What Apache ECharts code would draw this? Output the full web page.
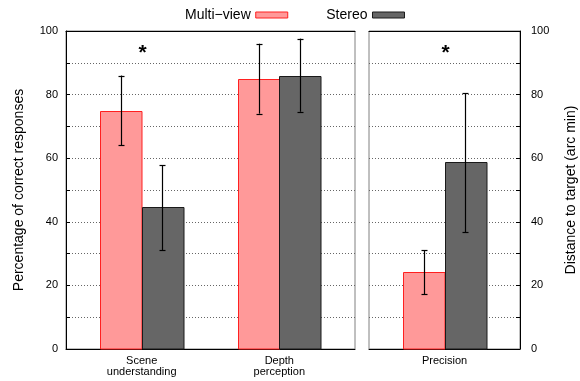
<!DOCTYPE html>
<html>
<head>
<meta charset="utf-8">
<script src="https://cdn.jsdelivr.net/npm/echarts@6/dist/echarts.min.js"></script>
<style>html,body{margin:0;padding:0;background:#fff}#chart{width:580px;height:381px}</style>
</head>
<body>
<div id="chart"></div>
<script>
// ---- data ----
const categoriesLeft = ['Scene\nunderstanding', 'Depth\nperception'];
const categoriesRight = ['Precision'];
const seriesNames = ['Multi\u2212view', 'Stereo'];

const multiViewPct = [75, 85];
const multiViewPctLow = [64, 74];
const multiViewPctHigh = [86, 96];

const stereoPct = [44.5, 86];
const stereoPctLow = [31, 74.6];
const stereoPctHigh = [57.8, 97.6];

const multiViewDist = [24.2];
const multiViewDistLow = [17.3];
const multiViewDistHigh = [31];

const stereoDist = [58.7];
const stereoDistLow = [36.8];
const stereoDistHigh = [80.4];

const yTicks = [0, 20, 40, 60, 80, 100];
const sigLeft = [[0, 94]];
const sigRight = [[0, 94]];

// ---- chart ----
const FONT = '"Liberation Sans", Arial, sans-serif';
const BAR_W = 41.5;
const styles = {
  mv: { fill: '#ff9999', stroke: '#ff2020' },
  st: { fill: '#666666', stroke: '#1a1a1a' }
};

function toData(v, lo, hi) { return v.map((x, i) => [i, x, lo[i], hi[i]]); }

function barRenderer(side, st) {
  return function (params, api) {
    const x = api.value(0), v = api.value(1), lo = api.value(2), hi = api.value(3);
    const top = api.coord([x, v]);
    const base = api.coord([x, 0]);
    const pLo = api.coord([x, lo]);
    const pHi = api.coord([x, hi]);
    const left = side < 0 ? top[0] - BAR_W : top[0];
    const ex = Math.round(left + BAR_W / 2) + 0.5;
    const cap = 3;
    return {
      type: 'group',
      children: [
        { type: 'rect', shape: { x: Math.round(left) + 0.5, y: Math.round(top[1]) + 0.5, width: BAR_W, height: base[1] - Math.round(top[1]) - 0.5 },
          style: { fill: st.fill, stroke: st.stroke, lineWidth: 1 } },
        { type: 'line', shape: { x1: ex, y1: pLo[1], x2: ex, y2: pHi[1] }, style: { stroke: '#000', lineWidth: 1.2 } },
        { type: 'line', shape: { x1: ex - cap, y1: Math.round(pLo[1]) + 0.5, x2: ex + cap, y2: Math.round(pLo[1]) + 0.5 }, style: { stroke: '#000', lineWidth: 1.2 } },
        { type: 'line', shape: { x1: ex - cap, y1: Math.round(pHi[1]) + 0.5, x2: ex + cap, y2: Math.round(pHi[1]) + 0.5 }, style: { stroke: '#000', lineWidth: 1.2 } }
      ]
    };
  };
}

function sigRenderer(params, api) {
  const p = api.coord([api.value(0), api.value(1)]);
  return { type: 'text', x: p[0] + 1, y: p[1] + 3, style: { text: '*', font: 'bold 21px ' + FONT, fill: '#000', align: 'center', verticalAlign: 'middle' } };
}

const splitStyle = { show: true, lineStyle: { color: '#666', type: [1, 2], width: 1 } };

function yAxis(grid, pos, name, nameGap, margin) {
  return {
    type: 'value', gridIndex: grid, position: pos, min: 0, max: 100, interval: 20,
    name: name, nameLocation: 'middle', nameGap: nameGap, nameRotate: 90,
    nameTextStyle: { fontFamily: FONT, fontSize: 14, color: '#000' },
    axisLine: { show: true, onZero: false, lineStyle: { color: '#000', width: 1 } },
    axisTick: { show: true, inside: true, length: 4, lineStyle: { color: '#000' } },
    minorTick: { show: true, splitNumber: 2, length: 4, lineStyle: { color: '#000' } },
    axisLabel: { fontFamily: FONT, fontSize: 11, color: '#000', margin: margin,
      customValues: yTicks },
    splitLine: splitStyle,
    minorSplitLine: splitStyle
  };
}

const option = {
  backgroundColor: '#fff',
  animation: false,
  legend: {
    left: 180, top: 3, align: 'right', itemWidth: 32, itemHeight: 6, itemGap: 38,
    textStyle: { fontFamily: FONT, fontSize: 14, color: '#000' },
    data: [
      { name: seriesNames[0], icon: 'rect', itemStyle: { color: styles.mv.fill, borderColor: styles.mv.stroke, borderWidth: 1 } },
      { name: seriesNames[1], icon: 'rect', itemStyle: { color: styles.st.fill, borderColor: styles.st.stroke, borderWidth: 1 } }
    ],
    selectedMode: false
  },
  grid: [
    { left: 66, top: 31, width: 289, height: 318, show: true, borderColor: '#808080', borderWidth: 1 },
    { left: 369, top: 31, width: 151, height: 318, show: true, borderColor: '#808080', borderWidth: 1 }
  ],
  xAxis: [
    { type: 'value', gridIndex: 0, min: -0.55, max: 1.55,
      axisLine: { show: true, onZero: false, lineStyle: { color: '#000' } },
      axisTick: { show: false }, splitLine: { show: false },
      axisLabel: { customValues: [0, 1], formatter: v => categoriesLeft[Math.round(v)] || '',
        fontFamily: FONT, fontSize: 11, lineHeight: 11, color: '#000', margin: 6 } },
    { type: 'category', gridIndex: 1, data: categoriesRight, boundaryGap: true,
      axisLine: { show: true, onZero: false, lineStyle: { color: '#000' } },
      axisTick: { show: false }, splitLine: { show: false },
      axisLabel: { fontFamily: FONT, fontSize: 11, lineHeight: 11, color: '#000', margin: 6 } },
    { type: 'value', gridIndex: 0, position: 'top', min: 0, max: 1,
      axisLine: { show: true, onZero: false, lineStyle: { color: '#000' } },
      axisTick: { show: false }, axisLabel: { show: false }, splitLine: { show: false } },
    { type: 'value', gridIndex: 1, position: 'top', min: 0, max: 1,
      axisLine: { show: true, onZero: false, lineStyle: { color: '#000' } },
      axisTick: { show: false }, axisLabel: { show: false }, splitLine: { show: false } }
  ],
  yAxis: [
    yAxis(0, 'left', 'Percentage of correct responses', 40, 8),
    yAxis(1, 'right', 'Distance to target (arc min)', 44, 11)
  ],
  series: [
    { type: 'custom', name: seriesNames[0], xAxisIndex: 0, yAxisIndex: 0, z: 3,
      itemStyle: { color: styles.mv.fill }, encode: { x: 0, y: 1 },
      renderItem: barRenderer(-1, styles.mv), data: toData(multiViewPct, multiViewPctLow, multiViewPctHigh) },
    { type: 'custom', name: seriesNames[1], xAxisIndex: 0, yAxisIndex: 0, z: 3,
      itemStyle: { color: styles.st.fill }, encode: { x: 0, y: 1 },
      renderItem: barRenderer(1, styles.st), data: toData(stereoPct, stereoPctLow, stereoPctHigh) },
    { type: 'custom', name: seriesNames[0], xAxisIndex: 1, yAxisIndex: 1, z: 3,
      itemStyle: { color: styles.mv.fill }, encode: { x: 0, y: 1 },
      renderItem: barRenderer(-1, styles.mv), data: toData(multiViewDist, multiViewDistLow, multiViewDistHigh) },
    { type: 'custom', name: seriesNames[1], xAxisIndex: 1, yAxisIndex: 1, z: 3,
      itemStyle: { color: styles.st.fill }, encode: { x: 0, y: 1 },
      renderItem: barRenderer(1, styles.st), data: toData(stereoDist, stereoDistLow, stereoDistHigh) },
    { type: 'custom', name: 'sigL', xAxisIndex: 0, yAxisIndex: 0, z: 4, renderItem: sigRenderer, data: sigLeft, encode: { x: 0, y: 1 } },
    { type: 'custom', name: 'sigR', xAxisIndex: 1, yAxisIndex: 1, z: 4, renderItem: sigRenderer, data: sigRight, encode: { x: 0, y: 1 } }
  ]
};

const chart = echarts.init(document.getElementById('chart'), null, { renderer: 'canvas' });
chart.setOption(option);
</script>
</body>
</html>
